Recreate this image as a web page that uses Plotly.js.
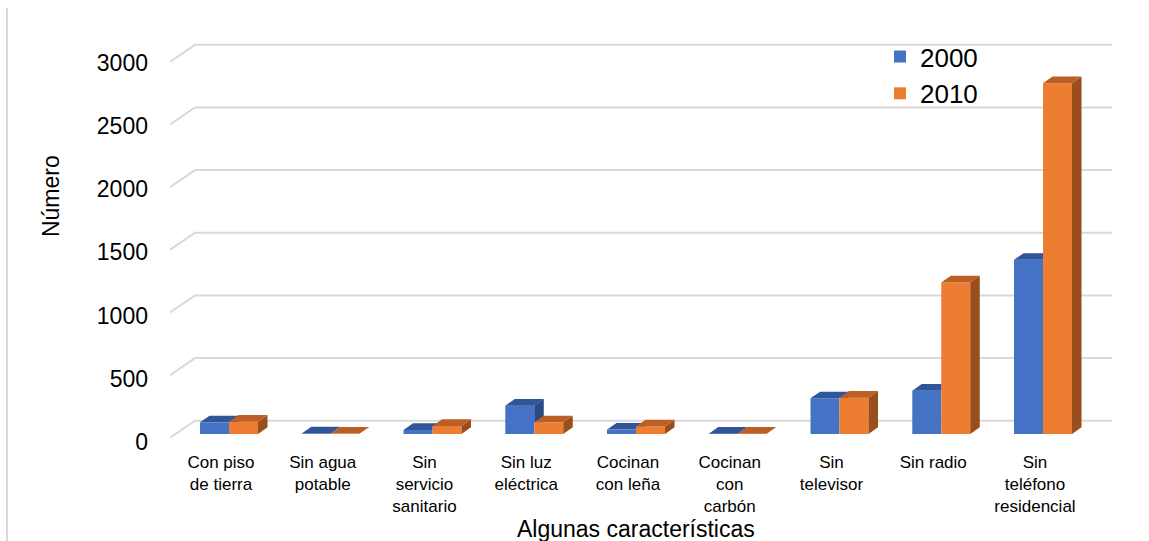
<!DOCTYPE html>
<html>
<head>
<meta charset="utf-8">
<script src="https://cdn.plot.ly/plotly-3.0.1.min.js"></script>
<style>
  html, body { margin: 0; padding: 0; background: #fff; }
  #chart { width: 1149px; height: 541px; }
</style>
</head>
<body>
<div id="chart"></div>
<script>
// Categories and values for each census year
const categories = [
  'Con piso<br>de tierra',
  'Sin agua<br>potable',
  'Sin<br>servicio<br>sanitario',
  'Sin luz<br>eléctrica',
  'Cocinan<br>con leña',
  'Cocinan<br>con<br>carbón',
  'Sin<br>televisor',
  'Sin radio',
  'Sin<br>teléfono<br>residencial'
];
const values2000 = [93, 4, 32, 226, 35, 2, 285, 346, 1390];
const values2010 = [98, 3, 64, 93, 60, 2, 290, 1210, 2800];
const seriesNames = ['2000', '2010'];
const yTickVals = [0, 500, 1000, 1500, 2000, 2500, 3000];

// Styling / pseudo-3D geometry (axis units)
const FONT = 'Liberation Sans, Arial, sans-serif';
const BAR_W = 0.285;      // width of one bar
const SHIFT = 0.079;      // group centre offset from the category tick
const DX = 0.0934;        // depth offset along x
const DY = 53;            // depth offset along y (value units)
const X_RANGE = [-0.501, 8.757];
const WALL_BACK_X = -0.2555;
const GRID_BACK_DY = 106;
const GRID_FRONT_DY = -30;

const colors = {
  front: ['#4472C4', '#ED7D31'],
  top:   ['#30569A', '#BD5E24'],
  side:  ['#294A84', '#9A4D1D']
};

// Clip a polygon to the half-plane y >= yo
function clipAbove(pts, yo) {
  const out = [];
  for (let k = 0; k < pts.length; k++) {
    const [x1, y1] = pts[k];
    const [x2, y2] = pts[(k + 1) % pts.length];
    const in1 = y1 >= yo, in2 = y2 >= yo;
    if (in1) out.push([x1, y1]);
    if (in1 !== in2) {
      const t = (yo - y1) / (y2 - y1);
      out.push([x1 + t * (x2 - x1), yo]);
    }
  }
  return out;
}

function addPoly(acc, pts) {
  if (pts.length < 3) return;
  pts.forEach(p => { acc.x.push(p[0]); acc.y.push(p[1]); });
  acc.x.push(pts[0][0]); acc.y.push(pts[0][1]);
  acc.x.push(null); acc.y.push(null);
}

const blueTop = {x: [], y: []}, blueSide = {x: [], y: []};
const orangeTop = {x: [], y: []}, orangeSide = {x: [], y: []};

categories.forEach((_, i) => {
  const c = i + SHIFT;
  const b = values2000[i], o = values2010[i];
  // 2000 bar: left part of the top face is never hidden
  addPoly(blueTop, [[c - BAR_W, b], [c, b], [c, b + DY], [c - BAR_W + DX, b + DY]]);
  // parts right of the shared edge are hidden by the 2010 front face below its height
  addPoly(blueTop, clipAbove([[c, b], [c + DX, b + DY], [c, b + DY]], o));
  addPoly(blueSide, clipAbove([[c, 0], [c + DX, DY], [c + DX, b + DY], [c, b]], o));
  // 2010 bar
  addPoly(orangeTop, [[c, o], [c + BAR_W, o], [c + BAR_W + DX, o + DY], [c + DX, o + DY]]);
  addPoly(orangeSide, [[c + BAR_W, 0], [c + BAR_W + DX, DY], [c + BAR_W + DX, o + DY], [c + BAR_W, o]]);
});

function faceTrace(acc, color) {
  return {
    type: 'scatter', mode: 'lines', x: acc.x, y: acc.y,
    xaxis: 'x', yaxis: 'y2',
    fill: 'toself', fillcolor: color,
    line: {width: 0, color: color},
    hoverinfo: 'skip', showlegend: false
  };
}

const xs = categories.map((_, i) => i);
const traces = [
  // empty carrier so the value axis (tick labels) gets its own subplot
  {
    type: 'scatter', mode: 'none', x: [X_RANGE[0]], y: [yTickVals[0]],
    xaxis: 'x', yaxis: 'y', hoverinfo: 'skip', showlegend: false
  },
  {
    type: 'bar', name: seriesNames[0], x: xs, y: values2000,
    xaxis: 'x', yaxis: 'y2',
    width: BAR_W, offset: SHIFT - BAR_W,
    marker: {color: colors.front[0], line: {width: 0}}
  },
  {
    type: 'bar', name: seriesNames[1], x: xs, y: values2010,
    xaxis: 'x', yaxis: 'y2',
    width: BAR_W, offset: SHIFT,
    marker: {color: colors.front[1], line: {width: 0}}
  },
  faceTrace(blueTop, colors.top[0]),
  faceTrace(blueSide, colors.side[0]),
  faceTrace(orangeSide, colors.side[1]),
  faceTrace(orangeTop, colors.top[1])
];

// Back wall and side wall gridlines
const shapes = yTickVals.map(v => ({
  type: 'path', xref: 'x', yref: 'y2', layer: 'below',
  path: `M${X_RANGE[0]},${v + GRID_FRONT_DY} L${WALL_BACK_X},${v + GRID_BACK_DY} L${X_RANGE[1]},${v + GRID_BACK_DY}`,
  line: {color: '#d9d9d9', width: 2}
}));
shapes.push({
  type: 'line', xref: 'paper', yref: 'paper',
  x0: -0.173, x1: -0.173, y0: 1.079, y1: -0.24,
  line: {color: '#d9d9d9', width: 2}
});

const layout = {
  width: 1149, height: 541,
  margin: {l: 170, r: 37, t: 40, b: 96},
  paper_bgcolor: '#fff', plot_bgcolor: 'rgba(0,0,0,0)',
  font: {family: FONT, color: '#000'},
  barmode: 'overlay',
  showlegend: true,
  legend: {
    x: 0.7537, y: 1.017, xanchor: 'left', yanchor: 'top',
    font: {size: 26, family: FONT, color: '#000'},
    bgcolor: 'rgba(0,0,0,0)', traceorder: 'normal'
  },
  xaxis: {
    range: X_RANGE, tickmode: 'array', tickvals: xs, ticktext: categories,
    showgrid: false, zeroline: false, showline: false, ticks: '',
    tickfont: {size: 17, family: FONT, color: '#000'},
    ticklabelstandoff: 5
  },
  yaxis: {
    range: [-23.7, 3179.6], tickmode: 'array', tickvals: yTickVals,
    showgrid: false, zeroline: false, showline: false, ticks: '',
    tickfont: {size: 23, family: FONT, color: '#000'},
    ticklabelstandoff: 21
  },
  yaxis2: {
    range: [-87.8, 3144.5], overlaying: 'y', anchor: 'x',
    showgrid: false, zeroline: false, showline: false,
    showticklabels: false, ticks: ''
  },
  shapes: shapes,
  annotations: [
    {
      text: 'Número', xref: 'paper', yref: 'paper', x: -0.1263, y: 0.6148,
      textangle: -90, showarrow: false, xanchor: 'center', yanchor: 'middle',
      font: {size: 23, family: FONT, color: '#000'}
    },
    {
      text: 'Algunas características', xref: 'paper', yref: 'paper', x: 0.4947, y: -0.2074,
      showarrow: false, xanchor: 'center', yanchor: 'middle',
      font: {size: 23, family: FONT, color: '#000'}
    }
  ]
};

Plotly.newPlot('chart', traces, layout, {staticPlot: true, displayModeBar: false});
</script>
</body>
</html>
